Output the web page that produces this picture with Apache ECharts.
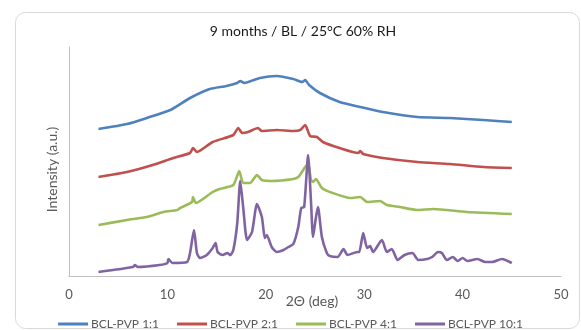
<!DOCTYPE html>
<html>
<head>
<meta charset="utf-8">
<script src="https://cdn.jsdelivr.net/npm/echarts@6/dist/echarts.min.js"></script>
<style>
  html, body { margin: 0; padding: 0; background: #fff; }
  #chart { width: 581px; height: 330px; }
</style>
</head>
<body>
<div id="chart"></div>
<script>
// series names
var seriesNames = ["BCL-PVP 1:1", "BCL-PVP 2:1", "BCL-PVP 4:1", "BCL-PVP 10:1"];
var xTicks = [0, 10, 20, 30, 40, 50];

// [2theta, intensity (a.u., offset for stacking)]
var pvp11 = [
  [3.0, 147], [5.9, 152], [7.9, 158], [10.3, 166], [12.3, 178], [14.3, 187],
  [16.0, 190], [17.1, 193], [17.4, 195], [17.8, 193], [19.4, 198], [21.1, 200],
  [22.8, 197], [23.7, 194], [24.0, 196], [24.4, 191], [25.5, 183], [27.5, 174],
  [29.6, 169], [31.9, 164], [35.4, 159], [38.7, 158], [42.1, 156], [45.0, 154]
];
var pvp21 = [
  [3.0, 99], [5.9, 104], [8.5, 111], [10.6, 118], [12.3, 123], [12.6, 128],
  [13.0, 124], [14.6, 134], [16.7, 141], [17.2, 148], [17.6, 143], [18.2, 144],
  [19.2, 148], [19.6, 145], [21.1, 146], [22.8, 145], [23.5, 146], [24.0, 151],
  [24.5, 140], [25.2, 139], [25.8, 134], [27.5, 128], [29.4, 123], [29.6, 125],
  [29.9, 122], [31.9, 118], [35.4, 114], [38.7, 112], [42.1, 109], [45.0, 108]
];
var pvp41 = [
  [3.0, 51], [5.9, 56], [7.9, 59], [9.6, 64], [11.0, 66], [11.3, 68],
  [12.5, 74], [12.6, 79], [12.9, 73], [14.6, 84], [15.3, 87], [16.7, 91],
  [17.3, 105], [17.7, 93], [18.4, 93], [19.1, 101], [19.6, 96], [20.6, 95],
  [22.8, 97], [23.3, 99], [23.6, 103], [24.0, 109], [24.3, 112], [24.6, 96],
  [24.8, 94], [25.1, 97], [25.7, 88], [26.8, 83], [28.6, 78], [29.6, 79],
  [30.3, 74], [31.6, 75], [32.3, 71], [33.6, 69], [35.4, 66], [37.0, 67],
  [40.4, 64], [45.0, 62]
];
var pvp101 = [
  [3.0, 4], [6.5, 9], [6.7, 11], [7.0, 9], [9.2, 11], [10.0, 13], [10.1, 17],
  [10.5, 13], [12.0, 14], [12.3, 23], [12.7, 46], [13.0, 23], [13.3, 18],
  [14.0, 21], [14.6, 28], [14.9, 33], [15.1, 24], [15.6, 21], [16.1, 23],
  [16.4, 21], [16.7, 26], [17.1, 53], [17.4, 95], [17.7, 69], [18.1, 36],
  [18.6, 44], [19.1, 72], [19.6, 59], [19.9, 38], [20.1, 41], [20.6, 29],
  [21.1, 24], [21.8, 26], [22.3, 29], [22.8, 32], [23.3, 49], [23.6, 68],
  [23.9, 69], [24.3, 121], [24.6, 73], [24.8, 39], [25.1, 59], [25.3, 69],
  [25.7, 39], [26.2, 23], [26.5, 20], [27.3, 19], [27.9, 27], [28.3, 21],
  [29.3, 24], [29.5, 24], [29.9, 43], [30.3, 28], [30.6, 30], [30.9, 24],
  [31.8, 36], [32.3, 24], [32.8, 27], [33.4, 16], [34.1, 21], [34.9, 23],
  [35.5, 16], [36.4, 17], [36.9, 19], [37.5, 24], [37.9, 23], [38.4, 16],
  [39.0, 19], [39.5, 15], [40.0, 18], [40.5, 15], [41.5, 17], [42.3, 14],
  [43.0, 14], [44.0, 17], [45.0, 13]
];

var colors = ["#4F81BD", "#C0504D", "#9BBB59", "#8064A2"];
var allData = [pvp11, pvp21, pvp41, pvp101];

var myChart = echarts.init(document.getElementById("chart"));

var option = {
  animation: false,
  color: colors,
  textStyle: { fontFamily: "Lato, 'Open Sans', sans-serif" },
  title: {
    text: "9 months / BL / 25°C 60% RH",
    left: 298,
    textAlign: "center",
    top: 19,
    textStyle: { fontSize: 14, fontWeight: "normal", color: "#1a1a1a" }
  },
  grid: { left: 69, right: 20, top: 47, bottom: 54 },
  xAxis: {
    type: "value",
    min: 0,
    max: 50,
    interval: 10,
    name: "2Θ (deg)",
    nameLocation: "middle",
    nameGap: 18,
    nameMoveOverlap: false,
    nameTextStyle: { fontSize: 14, color: "#595959", padding: [0, 6, 0, 0] },
    axisLine: { show: true, lineStyle: { color: "#BFBFBF", width: 1 } },
    axisTick: { show: false },
    splitLine: { show: false },
    axisLabel: {
      color: "#595959",
      fontSize: 13,
      margin: 12,
      customValues: xTicks
    }
  },
  yAxis: {
    type: "value",
    min: 0,
    max: 229,
    name: "Intensity (a.u.)",
    nameLocation: "middle",
    nameGap: 10,
    nameTextStyle: { fontSize: 14, color: "#595959", padding: [0, 16, 0, 0] },
    axisLine: { show: true, lineStyle: { color: "#BFBFBF", width: 1 } },
    axisTick: { show: false },
    axisLabel: { show: false },
    splitLine: { show: false }
  },
  legend: {
    data: seriesNames,
    top: 313,
    left: "center",
    icon: "rect",
    itemWidth: 30,
    itemHeight: 3,
    itemGap: 18,
    textStyle: { fontSize: 12, color: "#595959", padding: [0, 0, 0, -2] }
  },
  graphic: [
    {
      type: "rect",
      shape: { x: 15.5, y: 12.5, width: 564, height: 316, r: 10 },
      style: { fill: "none", stroke: "#D9D9D9", lineWidth: 1 },
      silent: true
    }
  ],
  series: seriesNames.map(function (name, i) {
    return {
      name: name,
      type: "line",
      data: allData[i],
      showSymbol: false,
      smooth: 0.2,
      lineStyle: { width: 2.6, color: colors[i] },
      z: 2 + i
    };
  })
};

myChart.setOption(option);
</script>
</body>
</html>
